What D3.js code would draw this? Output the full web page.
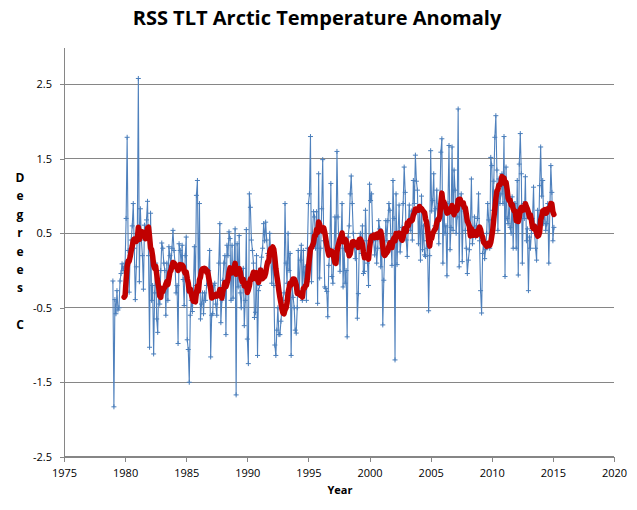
<!DOCTYPE html>
<html>
<head>
<meta charset="utf-8">
<script src="https://cdn.jsdelivr.net/npm/d3@7"></script>
<style>
  html, body { margin: 0; padding: 0; background: #fff; }
  svg { display: block; }
  text { font-family: "Open Sans", "Liberation Sans", sans-serif; fill: #000; }
</style>
</head>
<body>
<svg id="chart" width="637" height="510"></svg>
<script>
// ---------------- DATA ----------------
const chartTitle = "RSS TLT Arctic Temperature Anomaly";
const xLabel = "Year";
const yLabelLetters = ["D", "e", "g", "r", "e", "e", "s", "", "C"];
const startYear = 1979;            // first monthly value = Jan 1979
const xTicks = [1975, 1980, 1985, 1990, 1995, 2000, 2005, 2010, 2015, 2020];
const yTicks = [-2.5, -1.5, -0.5, 0.5, 1.5, 2.5];
const runningWindow = 12;          // red line = trailing 12-month mean

// monthly anomalies (deg C), one row per year
const monthlyAnomaly = [
  -0.14, -1.83, -0.39, -0.58, -0.27, -0.53, -0.5, -0.14, -0.04, 0.09, 0.0, 0.05,   // 1979
  0.1, 0.7, 1.79, 0.27, -0.29, 0.25, 0.41, 0.6, 0.9, 0.3, -0.39, 0.05,             // 1980
  0.5, 2.58, -0.15, 0.83, 0.41, 0.2, -0.25, 0.61, 0.45, 0.68, 0.93, 0.2,           // 1981
  -1.03, 0.77, -0.4, -0.2, -1.12, -0.3, 0.1, -0.65, -0.83, -0.2, -0.45, 0.0,       // 1982
  0.37, 0.3, 0.1, 0.0, -0.6, 0.1, -0.4, 0.32, 0.2, 0.07, 0.3, 0.54,                // 1983
  0.27, 0.1, -0.3, -0.2, -0.98, 0.36, 0.27, 0.1, 0.34, -0.12, -0.47, 0.2,          // 1984
  0.45, -0.93, -1.06, -1.5, -0.6, -0.4, -0.55, -0.3, 0.32, -0.2, 1.01, 1.21,       // 1985
  -0.3, 0.9, -0.65, -0.45, -0.3, -0.58, -0.3, -0.4, -0.2, -0.04, 0.0, 0.27,        // 1986
  -1.16, -0.6, -0.58, -0.2, -0.17, -0.45, -0.6, -0.3, 0.1, 0.63, -0.7, -0.4,       // 1987
  -0.13, 0.1, 0.2, -0.86, 0.34, 0.2, 0.52, 0.43, -0.4, 0.34, -0.37, 0.1,           // 1988
  0.56, -1.67, 0.36, -0.22, 0.47, -0.3, -0.5, -0.2, 0.03, -0.74, -0.4, 0.55,       // 1989
  -0.92, -1.25, 1.03, 0.85, 0.41, 0.27, 0.1, -0.63, -0.56, 0.2, -1.14, -0.27,      // 1990
  -0.2, 0.03, 0.18, 0.3, 0.63, 0.4, 0.65, 0.41, 0.23, 0.2, 0.5, 0.2,               // 1991
  -0.17, 0.27, -0.2, -1.0, -1.14, -0.8, -0.5, -0.86, -0.86, -0.68, -0.5, -0.4,     // 1992
  -0.3, 0.9, 0.1, -0.17, 0.5, 0.0, 0.23, -1.14, -0.2, -0.36, -0.5, -0.8,           // 1993
  -0.84, -0.5, 0.27, -0.3, 0.14, 0.34, -0.4, 0.27, -0.2, 0.05, -0.4, 0.3,          // 1994
  0.9, 1.03, 1.8, -0.15, 0.5, 0.79, 0.72, 0.3, 0.79, -0.44, 1.3, -0.1,             // 1995
  0.3, 0.83, 1.49, 0.4, -0.22, -0.24, -0.28, -0.62, 0.07, 0.3, 1.17, -0.08,        // 1996
  -0.17, 0.2, 0.72, 0.3, 1.6, 0.72, 0.3, -0.01, 0.4, 0.9, -0.22, 0.3,              // 1997
  -0.17, 0.0, -0.89, 0.45, 0.6, 1.03, 1.27, 0.9, 0.5, 0.36, 0.16, 0.3,             // 1998
  -0.64, -0.31, 0.41, 0.5, 0.23, 0.6, -0.04, -0.01, 0.81, 0.4, 0.1, -0.2,          // 1999
  1.16, 0.94, 1.03, 0.5, 0.41, 0.21, 0.4, 0.1, 0.3, 0.67, 0.56, 0.05,              // 2000
  0.3, -0.73, -0.13, 0.3, 0.67, 0.4, 0.67, 0.9, 0.81, 0.4, 0.07, 1.21,             // 2001
  0.7, -1.2, 1.03, 0.08, 0.5, 0.88, 0.25, 0.4, 0.58, 0.9, 1.39, 1.05,              // 2002
  0.41, 0.19, 0.6, 0.88, 0.54, 0.8, 0.41, 1.21, 0.9, 1.55, 1.2, 1.08,              // 2003
  0.36, 0.8, 0.14, 1.0, 0.28, 0.6, 0.21, 0.19, 0.4, 0.3, -0.54, 0.2,               // 2004
  1.61, 0.8, 0.94, 1.3, 0.6, 0.83, 1.08, 0.7, 0.36, 0.9, 1.59, 1.77,               // 2005
  0.1, 0.9, 0.5, 0.6, -0.07, 0.9, 1.68, 0.28, 0.58, 1.66, 0.54, 1.35,              // 2006
  1.08, 0.5, 0.72, 2.17, 0.05, 0.9, 1.03, 0.12, 0.8, 0.86, 0.54, 0.3,              // 2007
  -0.04, 0.14, 0.28, 0.6, 1.23, 0.36, 0.5, 0.72, 0.45, 0.6, 0.7, 1.03,             // 2008
  0.4, -0.27, -0.57, 0.23, 0.4, 0.16, 0.28, 0.5, 0.9, 0.68, 0.3, 1.52,             // 2009
  1.41, 0.81, 1.2, 1.79, 2.08, 1.35, 0.54, 1.23, 0.9, 1.03, 1.3, 0.9,              // 2010
  1.8, -0.08, 1.39, 0.7, 0.63, 0.94, 0.58, 0.5, 0.99, 0.3, 0.9, 0.9,               // 2011
  0.3, 1.21, -0.06, 1.43, 1.84, 1.3, 0.1, 0.9, 0.7, 1.26, 0.4, 0.56,               // 2012
  -0.27, 0.45, 0.3, 0.54, 0.7, 1.12, 0.5, 0.3, 0.14, 0.81, 0.5, 1.14,              // 2013
  1.66, 1.0, 1.21, 0.63, 0.8, 0.54, 0.63, 0.9, 0.1, 0.8, 1.41, 1.05,               // 2014
  0.4, 0.58                                                                        // 2015
];

// ---------------- CHART ----------------
const svg = d3.select("#chart");
const plot = { left: 64, right: 614, top: 47.2, bottom: 456.7 };

const x = d3.scaleLinear().domain([1975, 2020]).range([plot.left, plot.right]);
const y = d3.scaleLinear().domain([-2.5, 3.0]).range([plot.bottom, plot.top]);

const series = monthlyAnomaly.map((v, i) => ({ t: startYear + i / 12, v }));
const running = [];
for (let i = runningWindow - 1; i < monthlyAnomaly.length; i++) {
  const win = monthlyAnomaly.slice(i - runningWindow + 1, i + 1);
  running.push({ t: startYear + i / 12, v: d3.mean(win) });
}

// gridlines
svg.append("g").selectAll("line").data(yTicks).join("line")
  .attr("x1", plot.left).attr("x2", plot.right)
  .attr("y1", d => y(d)).attr("y2", d => y(d))
  .attr("stroke", "#868686").attr("stroke-width", 1).attr("shape-rendering", "crispEdges");

// y axis
const yAxis = d3.axisLeft(y).tickValues(yTicks).tickSize(4).tickSizeOuter(0)
  .tickFormat(d => d3.format(".1f")(d).replace("−", "-"));
const gy = svg.append("g").attr("transform", `translate(${plot.left},0)`).call(yAxis);
gy.select(".domain").attr("stroke", "#868686").attr("shape-rendering", "crispEdges");
gy.selectAll(".tick line").attr("stroke", "#868686").attr("shape-rendering", "crispEdges");
gy.selectAll(".tick text").attr("x", -12).attr("font-size", 11).attr("font-family", "'Open Sans', sans-serif").attr("fill", "#000");

// x axis
const xAxis = d3.axisBottom(x).tickValues(xTicks).tickSize(5).tickSizeOuter(0).tickFormat(d3.format("d"));
const gx = svg.append("g").attr("transform", `translate(0,${plot.bottom})`).call(xAxis);
gx.select(".domain").attr("stroke", "#868686").attr("shape-rendering", "crispEdges");
gx.selectAll(".tick line").attr("stroke", "#868686").attr("shape-rendering", "crispEdges");
gx.selectAll(".tick text").attr("y", 13).attr("font-size", 11).attr("font-family", "'Open Sans', sans-serif").attr("fill", "#000");

// blue monthly line
const line = d3.line().x(d => x(d.t)).y(d => y(d.v));
svg.append("path").datum(series)
  .attr("d", line).attr("fill", "none")
  .attr("stroke", "#4F81BD").attr("stroke-width", 1.1).attr("stroke-linejoin", "round");

// plus markers
const s = 2.5;
svg.append("g").selectAll("path").data(series).join("path")
  .attr("d", d => {
    const cx = x(d.t), cy = y(d.v);
    return `M${cx - s},${cy}H${cx + s}M${cx},${cy - s}V${cy + s}`;
  })
  .attr("stroke", "#4A7EBB").attr("stroke-width", 1).attr("fill", "none");

// red running mean
svg.append("path").datum(running)
  .attr("d", line).attr("fill", "none")
  .attr("stroke", "#C00000").attr("stroke-width", 5.5)
  .attr("stroke-linejoin", "round").attr("stroke-linecap", "round");

// title
svg.append("text").attr("x", 317).attr("y", 25).attr("text-anchor", "middle")
  .attr("font-size", 20).attr("font-weight", "bold").text(chartTitle);

// x label
svg.append("text").attr("x", 340).attr("y", 494).attr("text-anchor", "middle")
  .attr("font-size", 11).attr("font-weight", "bold").text(xLabel);

// y label (stacked letters)
svg.append("g").selectAll("text").data(yLabelLetters).join("text")
  .attr("x", 20).attr("y", (d, i) => 182 + i * 18.4)
  .attr("text-anchor", "middle").attr("font-size", 12).attr("font-weight", "bold")
  .text(d => d);
</script>
</body>
</html>
